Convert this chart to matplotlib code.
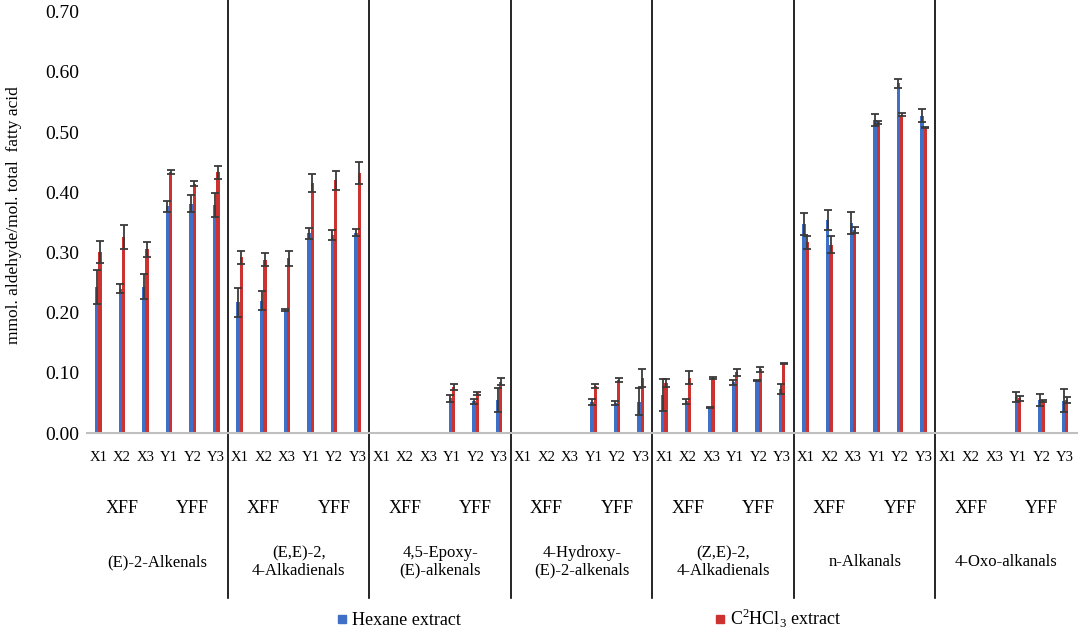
import matplotlib
matplotlib.use("Agg")
import matplotlib.pyplot as plt
from matplotlib.lines import Line2D
import numpy as np

nan = np.nan

# Aldehyde classes (groups of six samples each)
groups = ["(E)-2-Alkenals", "(E,E)-2,\n4-Alkadienals", "4,5-Epoxy-\n(E)-alkenals",
          "4-Hydroxy-\n(E)-2-alkenals", "(Z,E)-2,\n4-Alkadienals", "n-Alkanals",
          "4-Oxo-alkanals"]
samples = ["X1", "X2", "X3", "Y1", "Y2", "Y3"]
oils = ["XFF", "YFF"]

# Hexane extract
hexane = [0.243, 0.240, 0.243, 0.377, 0.381, 0.379,
          0.217, 0.220, 0.204, 0.332, 0.329, 0.333,
          nan, nan, nan, 0.058, 0.053, 0.055,
          nan, nan, nan, 0.052, 0.050, 0.052,
          0.063, 0.053, 0.042, 0.084, 0.087, 0.073,
          0.347, 0.354, 0.349, 0.520, 0.581, 0.527,
          nan, nan, nan, 0.060, 0.055, 0.054]
hexane_err = [0.028, 0.008, 0.021, 0.009, 0.014, 0.020,
              0.024, 0.016, 0.002, 0.009, 0.009, 0.006,
              0, 0, 0, 0.006, 0.004, 0.020,
              0, 0, 0, 0.005, 0.004, 0.022,
              0.026, 0.004, 0.001, 0.004, 0.001, 0.008,
              0.018, 0.017, 0.018, 0.010, 0.007, 0.011,
              0, 0, 0, 0.008, 0.010, 0.019]

# C2HCl3 extract
chcl3 = [0.301, 0.325, 0.305, 0.434, 0.414, 0.433,
         0.292, 0.288, 0.290, 0.415, 0.420, 0.432,
         nan, nan, nan, 0.076, 0.066, 0.085,
         nan, nan, nan, 0.078, 0.088, 0.092,
         0.083, 0.092, 0.091, 0.101, 0.106, 0.115,
         0.317, 0.313, 0.337, 0.516, 0.529, 0.507,
         nan, nan, nan, 0.058, 0.053, 0.055]
chcl3_err = [0.018, 0.020, 0.012, 0.003, 0.004, 0.011,
             0.011, 0.011, 0.013, 0.015, 0.016, 0.018,
             0, 0, 0, 0.005, 0.002, 0.006,
             0, 0, 0, 0.003, 0.003, 0.015,
             0.007, 0.011, 0.002, 0.006, 0.004, 0.001,
             0.011, 0.014, 0.005, 0.003, 0.003, 0.001,
             0, 0, 0, 0.004, 0.002, 0.005]

plt.rcParams['font.family'] = ['Liberation Serif', 'DejaVu Serif']
plt.rcParams['mathtext.fontset'] = 'custom'
plt.rcParams['mathtext.rm'] = 'Liberation Serif'

blue = '#3F6FC6'
red = '#CC3330'

fig = plt.figure(figsize=(10.84, 6.34), dpi=100)
ax = fig.add_axes([0.0798, 0.317, 0.9137, 0.6645])

n = len(samples)
x = np.arange(len(groups) * n)
w = 0.14
ekw = dict(ecolor='#3A3A3A', elinewidth=1.3, capsize=2.8, capthick=1.3)
ax.bar(x - w / 2, hexane, w, yerr=hexane_err, color=blue, error_kw=ekw)
ax.bar(x + w / 2, chcl3, w, yerr=chcl3_err, color=red, error_kw=ekw)

ax.set_xlim(-0.5, len(x) - 0.5)
ax.set_ylim(0, 0.70)
ax.set_yticks(np.arange(0, 0.71, 0.1))
ax.set_yticklabels([f"{v:.2f}" for v in np.arange(0, 0.71, 0.1)], fontsize=14)
ax.tick_params(axis='y', length=0, pad=5)
ax.set_xticks([])
for s in ['top', 'right', 'left']:
    ax.spines[s].set_visible(False)
ax.spines['bottom'].set_color('#BFBFBF')
ax.spines['bottom'].set_linewidth(1.5)

fig.text(14 / 1084, 1 - 215 / 634, "mmol. aldehyde/mol. total  fatty acid",
         rotation=90, ha='center', va='center', fontsize=12.5)

tr = ax.get_xaxis_transform()
for gi, g in enumerate(groups):
    base = gi * n
    for si, s in enumerate(samples):
        ax.text(base + si, -0.057, s, transform=tr, ha='center', va='center',
                fontsize=10.5)
    ax.text(base + 1, -0.18, oils[0], transform=tr, ha='center', va='center',
            fontsize=13)
    ax.text(base + 4, -0.18, oils[1], transform=tr, ha='center', va='center',
            fontsize=13)
    ax.text(base + 2.5, -0.306, g, transform=tr, ha='center', va='center',
            fontsize=12, linespacing=1.1)
    if gi > 0:
        ax.axvline(base - 0.5, ymin=-0.392, ymax=1.028, color='black',
                   lw=1.2, clip_on=False)

handles = [Line2D([], [], marker='s', ls='none', color=blue, markersize=6),
           Line2D([], [], marker='s', ls='none', color=red, markersize=6)]
fig.legend(handles, ["Hexane extract", r"C$^{\mathrm{2}}$HCl$_{\mathrm{3}}$ extract"],
           loc='center', bbox_to_anchor=(589 / 1084, 0.024), ncol=2,
           frameon=False, fontsize=13, handlelength=0.6, handletextpad=0.3,
           columnspacing=14)

fig.savefig("out.png", dpi=100)
